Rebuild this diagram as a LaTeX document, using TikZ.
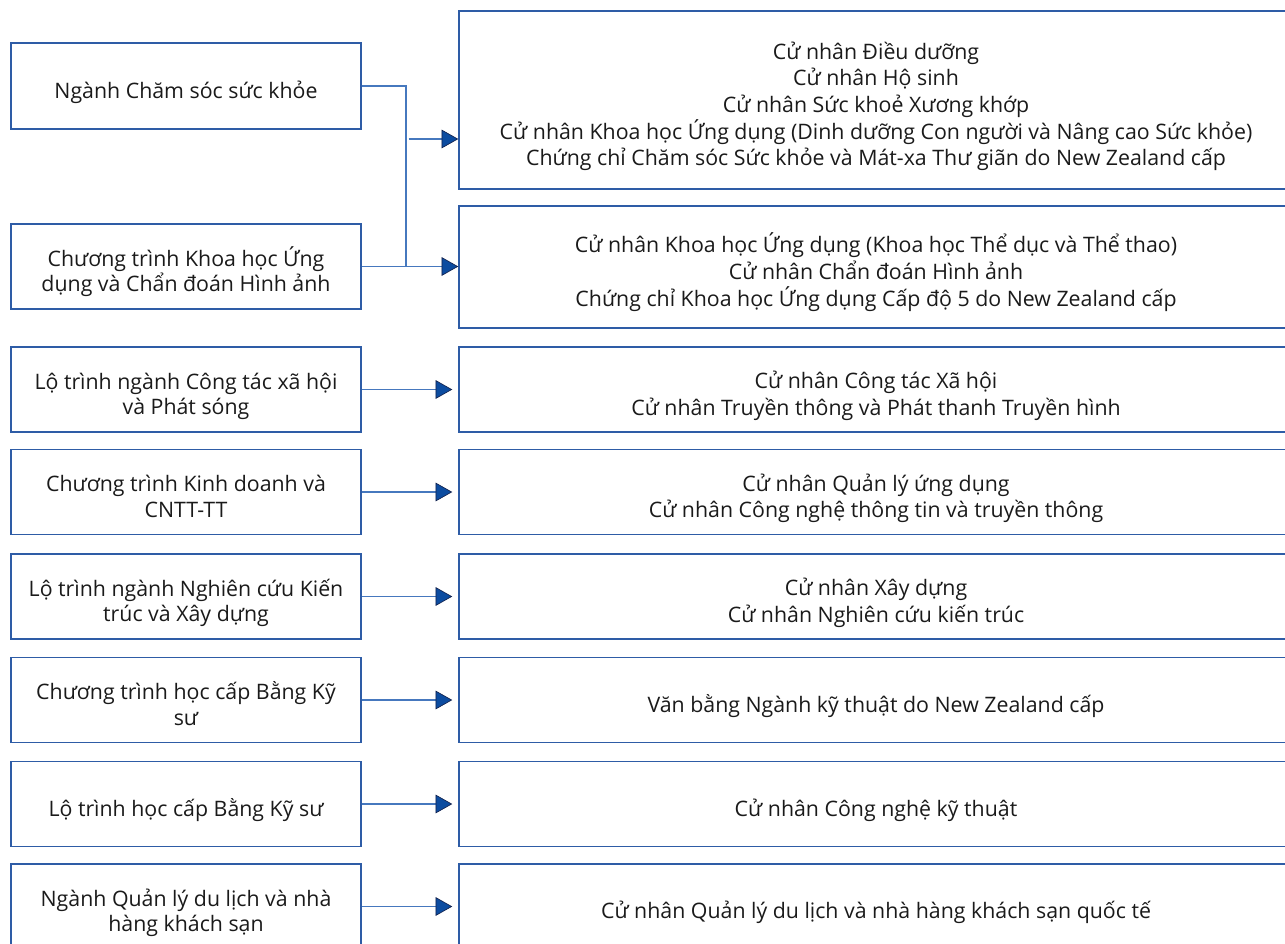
\documentclass[tikz,border=0pt]{standalone}
\usepackage{fontspec}
\setmainfont{Open Sans}
\usetikzlibrary{arrows.meta,positioning}

\definecolor{boxblue}{RGB}{46,92,166}
\definecolor{linkblue}{RGB}{70,120,190}
\definecolor{tipblue}{RGB}{12,76,160}
\definecolor{tipedge}{RGB}{20,36,80}
\definecolor{txt}{RGB}{26,26,26}

\tikzset{
  course/.style={draw=boxblue, line width=1.1pt, rectangle, align=flush center, text=txt,
    inner sep=0pt,
    execute at begin node={\rule{0pt}{23pt}},
    execute at end node={\rule[-4.5pt]{0pt}{0pt}}},
  leftbox/.style={course, font=\fontsize{16}{19}\selectfont, text width=255pt,
    minimum width=262.5pt, minimum height=64pt},
  rightbox/.style={course, font=\fontsize{16}{20}\selectfont, text width=620pt,
    minimum width=625.5pt, minimum height=64pt},
  link/.style={draw=linkblue, line width=0.8pt},
  arr/.style={link, -{Triangle[length=12.5pt, width=14pt, color=tipedge, fill=tipblue, line width=0.5pt]}},
}

\begin{document}
\begin{tikzpicture}[x=0.75pt, y=-0.75pt]
  \useasboundingbox (0,0) rectangle (1285,943);
  \clip (0,0) rectangle (1285,943);

  % pathway programmes (left) and degrees (right)
  \node[leftbox, minimum height=64.5pt] (L1) at (186,86) {Ngành Chăm sóc sức khỏe};
  \node[leftbox] (L2) at (186,266.5) {Chương trình Khoa học Ứng\\dụng và Chẩn đoán Hình ảnh};
  \node[rightbox, minimum height=133.5pt] (R1) at (876,100) {Cử nhân Điều dưỡng\\Cử nhân Hộ sinh\\Cử nhân Sức khoẻ Xương khớp\\Cử nhân Khoa học Ứng dụng (Dinh dưỡng Con người và Nâng cao Sức khỏe)\\Chứng chỉ Chăm sóc Sức khỏe và Mát-xa Thư giãn do New Zealand cấp};
  \node[rightbox, minimum height=91.5pt] (R2) at (876,267) {Cử nhân Khoa học Ứng dụng (Khoa học Thể dục và Thể thao)\\Cử nhân Chẩn đoán Hình ảnh\\Chứng chỉ Khoa học Ứng dụng Cấp độ 5 do New Zealand cấp};

  \node[leftbox] (L3) at (186,389.5) {Lộ trình ngành Công tác xã hội\\và Phát sóng};
  \node[rightbox] (R3) at (876,389.5) {Cử nhân Công tác Xã hội\\Cử nhân Truyền thông và Phát thanh Truyền hình};

  \node[leftbox] (L4) at (186,492) {Chương trình Kinh doanh và\\CNTT-TT};
  \node[rightbox] (R4) at (876,492) {Cử nhân Quản lý ứng dụng\\Cử nhân Công nghệ thông tin và truyền thông};

  \node[leftbox] (L5) at (186,596.5) {Lộ trình ngành Nghiên cứu Kiến\\trúc và Xây dựng};
  \node[rightbox] (R5) at (876,596.5) {Cử nhân Xây dựng\\Cử nhân Nghiên cứu kiến trúc};

  \node[leftbox] (L6) at (186,700) {Chương trình học cấp Bằng Kỹ\\sư};
  \node[rightbox] (R6) at (876,700) {Văn bằng Ngành kỹ thuật do New Zealand cấp};

  \node[leftbox] (L7) at (186,804) {Lộ trình học cấp Bằng Kỹ sư};
  \node[rightbox] (R7) at (876,804) {Cử nhân Công nghệ kỹ thuật};

  \node[leftbox] (L8) at (186,906.5) {Ngành Quản lý du lịch và nhà\\hàng khách sạn};
  \node[rightbox] (R8) at (876,906.5) {Cử nhân Quản lý du lịch và nhà hàng khách sạn quốc tế};

  % connectors
  \coordinate (split) at (406,139);
  \draw[link] (L1.east) -| (split |- L2.east);
  \draw[arr] ([xshift=2pt]split) -- (split -| R1.west);
  \draw[arr] (L2.east) -- (L2.east -| R2.west);
  \draw[arr, shorten >=4.5pt] (L3) -- (R3);
  \draw[arr, shorten >=4.5pt] (L4) -- (R4);
  \draw[arr, shorten >=4.5pt] (L5) -- (R5);
  \draw[arr, shorten >=4.5pt] (L6) -- (R6);
  \draw[arr, shorten >=4.5pt] (L7) -- (R7);
  \draw[arr, shorten >=4.5pt] (L8) -- (R8);
\end{tikzpicture}
\end{document}
